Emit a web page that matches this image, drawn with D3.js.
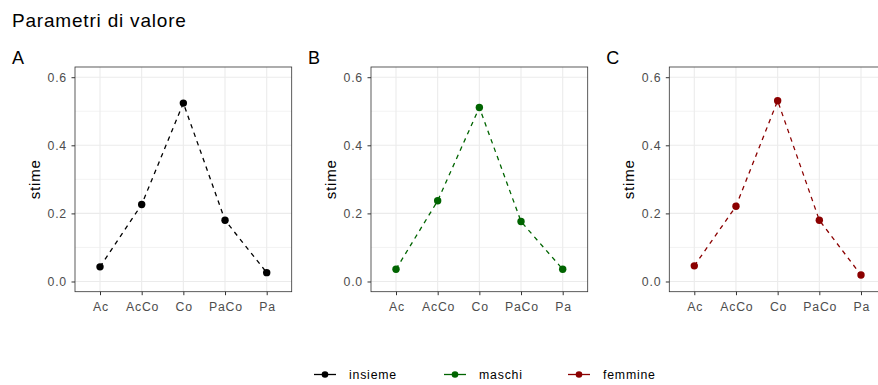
<!DOCTYPE html>
<html>
<head>
<meta charset="utf-8">
<script src="https://cdn.jsdelivr.net/npm/d3@7"></script>
<style>
  body { margin: 0; background: #fff; }
  text { font-family: "Liberation Sans", Arial, sans-serif; }
</style>
</head>
<body>
<div id="chart"></div>
<script>
// data
var categories = ["Ac", "AcCo", "Co", "PaCo", "Pa"];
var insieme = [0.043, 0.226, 0.524, 0.180, 0.026];
var maschi  = [0.036, 0.237, 0.511, 0.176, 0.036];
var femmine = [0.046, 0.221, 0.531, 0.180, 0.019];
var panelTags = ["A", "B", "C"];
var seriesNames = ["insieme", "maschi", "femmine"];
var seriesColors = ["#000000", "#006400", "#8B0000"];
var yTicks = [0, 0.2, 0.4, 0.6];
var yMinor = [0.1, 0.3, 0.5];

var W = 878, H = 385;
var svg = d3.select("#chart").append("svg")
  .attr("width", W).attr("height", H);

svg.append("text")
  .attr("x", 12).attr("y", 26.5)
  .attr("font-size", "19px").attr("letter-spacing", "0.8px").attr("fill", "#000")
  .text("Parametri di valore");

var panelLeft = [75, 371, 669.3];
var panelW = 216.7, panelTop = 67, panelBottom = 291.7;
var allSeries = [insieme, maschi, femmine];

var y = d3.scaleLinear().domain([-0.03, 0.63]).range([panelBottom, panelTop]);

panelLeft.forEach(function (left, i) {
  var g = svg.append("g");
  var x = d3.scalePoint().domain(categories).range([left, left + panelW]).padding(0.6);
  var color = seriesColors[i];
  var vals = allSeries[i];

  // tag
  g.append("text").attr("x", left - 63).attr("y", 64)
    .attr("font-size", "18px").attr("letter-spacing", "0.5px").text(panelTags[i]);

  // grid
  g.selectAll(".minor").data(yMinor).enter().append("line")
    .attr("x1", left).attr("x2", left + panelW)
    .attr("y1", function (d) { return y(d); }).attr("y2", function (d) { return y(d); })
    .attr("stroke", "#EBEBEB").attr("stroke-width", 0.6);
  g.selectAll(".majorY").data(yTicks).enter().append("line")
    .attr("x1", left).attr("x2", left + panelW)
    .attr("y1", function (d) { return y(d); }).attr("y2", function (d) { return y(d); })
    .attr("stroke", "#EBEBEB").attr("stroke-width", 1.1);
  g.selectAll(".majorX").data(categories).enter().append("line")
    .attr("y1", panelTop).attr("y2", panelBottom)
    .attr("x1", function (d) { return x(d); }).attr("x2", function (d) { return x(d); })
    .attr("stroke", "#EBEBEB").attr("stroke-width", 1.1);

  // axes
  var ya = g.append("g").attr("transform", "translate(" + left + ",0)")
    .call(d3.axisLeft(y).tickValues(yTicks).tickSize(3.5).tickPadding(4.5).tickFormat(d3.format(".1f")));
  var xa = g.append("g").attr("transform", "translate(0," + panelBottom + ")")
    .call(d3.axisBottom(x).tickSize(3.5).tickPadding(7.5));
  [ya, xa].forEach(function (a) {
    a.select(".domain").remove();
    a.selectAll(".tick line").attr("stroke", "#333333").attr("stroke-width", 1);
    a.selectAll(".tick text").attr("fill", "#4D4D4D").attr("font-size", "12.3px")
      .attr("letter-spacing", "0.8px")
      .attr("font-family", "Liberation Sans, Arial, sans-serif");
  });
  xa.selectAll(".tick text").attr("dx", "0.4px");

  // border
  g.append("rect").attr("x", left).attr("y", panelTop)
    .attr("width", panelW).attr("height", panelBottom - panelTop)
    .attr("fill", "none").attr("stroke", "#333333").attr("stroke-width", 0.8);

  // y title
  g.append("text")
    .attr("transform", "translate(" + (left - 35) + "," + ((panelTop + panelBottom) / 2) + ") rotate(-90)")
    .attr("text-anchor", "middle").attr("font-size", "15px").attr("letter-spacing", "0.8px")
    .text("stime");

  // line + points
  var line = d3.line()
    .x(function (d, j) { return x(categories[j]); })
    .y(function (d) { return y(d); });
  g.append("path").datum(vals).attr("d", line)
    .attr("fill", "none").attr("stroke", color).attr("stroke-width", 1.3)
    .attr("stroke-dasharray", "4.5,4.5");
  g.selectAll(".pt").data(vals).enter().append("circle")
    .attr("cx", function (d, j) { return x(categories[j]); })
    .attr("cy", function (d) { return y(d); })
    .attr("r", 3.7).attr("fill", color);
});

// legend
var legX = [314, 444, 568];
var legY = 374.5;
seriesNames.forEach(function (name, i) {
  var lg = svg.append("g");
  lg.append("line").attr("x1", legX[i]).attr("x2", legX[i] + 22)
    .attr("y1", legY).attr("y2", legY)
    .attr("stroke", seriesColors[i]).attr("stroke-width", 1.3);
  lg.append("circle").attr("cx", legX[i] + 11).attr("cy", legY).attr("r", 3.3)
    .attr("fill", seriesColors[i]);
  lg.append("text").attr("x", legX[i] + 35).attr("y", legY + 4.4)
    .attr("font-size", "12.3px").attr("letter-spacing", "0.8px").attr("fill", "#000").text(name);
});
</script>
</body>
</html>
